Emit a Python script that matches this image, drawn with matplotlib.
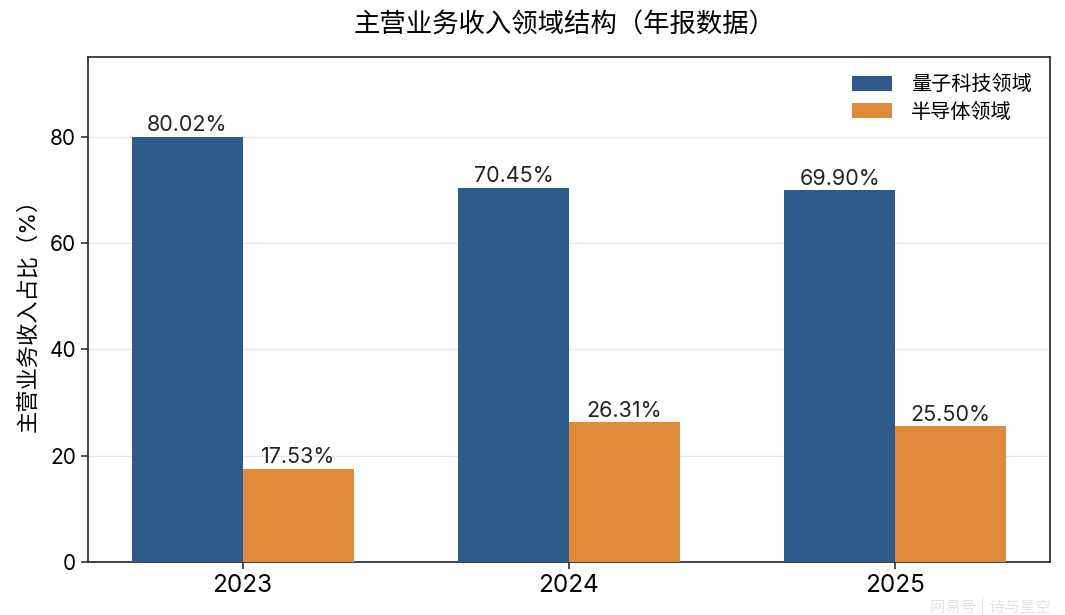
import matplotlib
matplotlib.use("Agg")
import matplotlib.pyplot as plt
import numpy as np

plt.rcParams['font.family'] = ['Inter', 'Noto Sans CJK SC', 'DejaVu Sans']

years = ['2023', '2024', '2025']
quantum = [80.02, 70.45, 69.90]
semi = [17.53, 26.31, 25.50]
series_names = ['量子科技领域', '半导体领域']
colors = ['#2e5b8a', '#e08a3c']

fig = plt.figure(figsize=(10.65, 6.15), dpi=100)
ax = fig.add_axes([88/1065, 1-562/615, (1050-88)/1065, (562-57)/615])

x = np.arange(len(years))
w = 0.34
b1 = ax.bar(x - w/2, quantum, w, color=colors[0], label=series_names[0], zorder=3)
b2 = ax.bar(x + w/2, semi, w, color=colors[1], label=series_names[1], zorder=3)

for bars, vals in ((b1, quantum), (b2, semi)):
    for r, v in zip(bars, vals):
        ax.text(r.get_x() + r.get_width()/2, v + 0.3, f'{v:.2f}%', ha='center', va='bottom',
                fontsize=15.5, color='#222222')

ax.set_ylim(0, 95)
ax.set_yticks([0, 20, 40, 60, 80])
ax.set_xticks(x)
ax.set_xticklabels(years, fontsize=17.5)
ax.tick_params(axis='y', labelsize=15)
ax.tick_params(axis='both', length=5, width=1.1, color='#222222')
ax.yaxis.grid(True, color='#e6e6e6', linewidth=1, zorder=0)
ax.set_axisbelow(True)
for s in ax.spines.values():
    s.set_color('#222222')
    s.set_linewidth(1.2)
ax.set_ylabel('主营业务收入占比（%）', fontsize=16, labelpad=8)
ax.legend(loc='upper right', frameon=False, fontsize=14.5, handlelength=2.0, handleheight=0.8,
          handletextpad=0.95, borderaxespad=0.5, labelspacing=0.4)

fig.text(565/1065, 1-25/615, '主营业务收入领域结构（年报数据）', ha='center', va='center', fontsize=19)
fig.text(1050/1065, 1-606/615, '网易号 | 诗与星空', ha='right', va='center', fontsize=11,
         color='#dddddd', alpha=0.8)

fig.savefig('out.png', dpi=100)
